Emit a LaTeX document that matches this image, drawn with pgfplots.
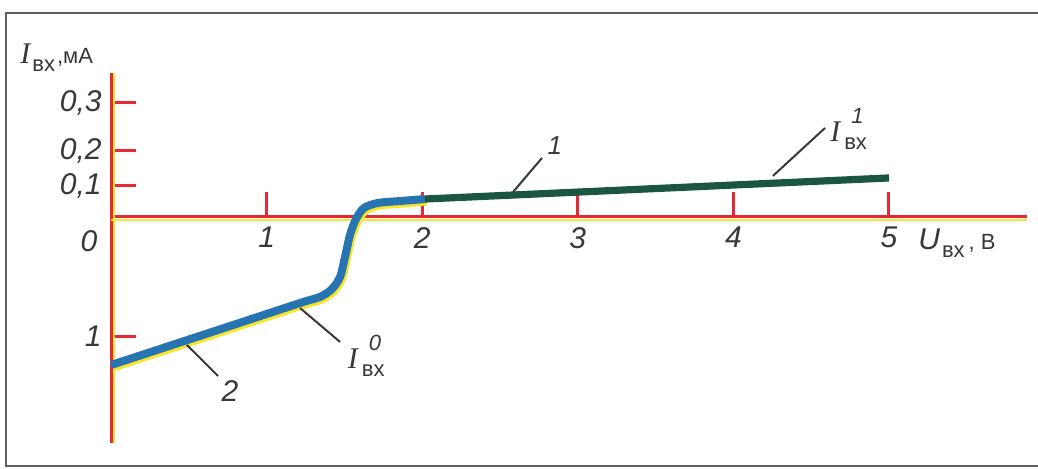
\documentclass[border=0pt]{standalone}
\usepackage{fontspec}
\setmainfont{Liberation Sans}
\newfontfamily\seriffam{Liberation Serif}
\usepackage{pgfplots}
\usepackage{pgfplotstable}
\pgfplotsset{compat=1.18}

\definecolor{axred}{RGB}{232,40,52}
\definecolor{axyel}{RGB}{250,228,40}
\definecolor{curveblue}{RGB}{38,116,178}
\definecolor{curvegreen}{RGB}{26,86,66}
\definecolor{ink}{RGB}{55,55,60}
\definecolor{framegray}{RGB}{95,95,95}

% sizes used for the lettering
\newcommand{\lbig}{\fontsize{15}{15}\selectfont}
\newcommand{\lsml}{\fontsize{11}{11}\selectfont}
% subscript / superscript built from text boxes
\newcommand{\sub}[1]{\raisebox{-4pt}{\lsml #1}}
\newcommand{\Isym}{{\lbig\seriffam\itshape I}}
\newcommand{\Iwith}[1]{\Isym\kern2pt\rlap{\raisebox{9pt}{\kern3.5pt\lsml\itshape #1}}\sub{вх}}

% Input characteristic I_in(U_in).
% Vertical scale: below zero one unit = 1 mA;
% above zero the scale is stretched, the 0,1 ... 0,3 mA ticks sit where drawn.
\pgfplotstableread{
V      I
0.000 -1.244
0.600 -0.987
1.215 -0.723
1.343 -0.672
1.420 -0.605
1.472 -0.504
1.504 -0.336
1.536 -0.151
1.575 -0.017
1.626  0.076
1.716  0.118
1.857  0.134
2.018  0.151
}\lowbranch
\pgfplotstableread{
V      I
2.018  0.151
5.000  0.328
}\highbranch

\begin{document}
\begin{tikzpicture}
\useasboundingbox (0pt,0pt) rectangle (519pt,234.5pt);
% printed frame
\draw[framegray, line width=1pt] (519pt,228pt) -- (3pt,228pt) -- (3pt,1.5pt) -- (519pt,1.5pt);

\begin{axis}[
  at={(55.5pt,126pt)}, anchor=origin,
  scale only axis, width=458pt, height=185pt,
  xmin=0, xmax=5.887, ymin=-1.899, ymax=1.210,
  axis lines=middle,
  axis line style={axred, line width=1.5pt, -},
  xtick={1,2,3,4,5}, xticklabels={1,2,3,4,5},
  ytick={-1,0.261,0.555,0.958}, yticklabels={1,{0,1},{0,2},{0,3}},
  tick align=inside,
  major tick length=12.5pt,
  tick style={axred, line width=1.5pt},
  ticklabel style={font=\lbig\itshape, text=ink},
  xticklabel style={yshift=-1.5pt},
  yticklabel style={xshift=-1.2pt},
  clip=false,
]
% yellow register shadow of the axes
\draw[axyel, line width=1.1pt] ([yshift=-1.5pt]axis cs:0,0) -- ([yshift=-1.5pt]axis cs:5.887,0);
\draw[axyel, line width=1.1pt] ([xshift=1.5pt]axis cs:0,-1.899) -- ([xshift=1.5pt]axis cs:0,1.21);

% curve with its yellow shadow
\addplot[axyel, line width=4pt, smooth, tension=0.5, xshift=0.8pt, yshift=-1.3pt] table[x=V,y=I] {\lowbranch};
\addplot[curveblue, line width=4pt, smooth, tension=0.5] table[x=V,y=I] {\lowbranch};
\addplot[curvegreen, line width=3.6pt] table[x=V,y=I] {\highbranch};

% leaders and labels
\draw[ink, line width=1pt] (axis cs:2.770,0.496) -- (axis cs:2.584,0.210);
\node[text=ink, font=\fontsize{13}{13}\selectfont\itshape] at (axis cs:2.853,0.600) {1};
\draw[ink, line width=1pt] (axis cs:4.589,0.748) -- (axis cs:4.254,0.345);
\node[text=ink, anchor=west, inner sep=0pt] at (axis cs:4.62,0.74) {\Iwith{1}};
\draw[ink, line width=1pt] (axis cs:1.215,-0.765) -- (axis cs:1.472,-1.050);
\node[text=ink, anchor=west, inner sep=0pt] at (axis cs:1.52,-1.17) {\Iwith{0}};
\draw[ink, line width=1pt] (axis cs:0.488,-1.076) -- (axis cs:0.688,-1.336);
\node[text=ink, font=\lbig\itshape] at (axis cs:0.765,-1.462) {2};

\node[text=ink, font=\lbig\itshape] at (axis cs:-0.141,-0.202) {0};
\node[text=ink, anchor=west, inner sep=0pt] at (axis cs:-0.585,1.336) {\Isym\kern1pt\sub{вх}\kern1pt{\lsml,мА}};
\node[text=ink, anchor=west, inner sep=0pt] at (axis cs:5.186,-0.218) {{\lbig\itshape U}\kern1pt\sub{вх}\kern2pt{\lsml, В}};
\end{axis}
\end{tikzpicture}
\end{document}
